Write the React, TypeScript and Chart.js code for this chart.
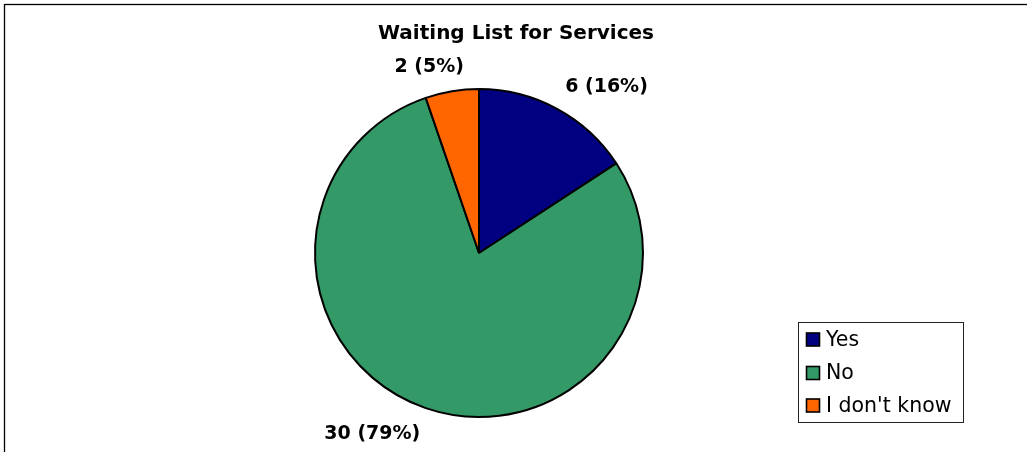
import React, { useEffect, useRef } from "react";
import { Chart, registerables } from "chart.js";

Chart.register(...registerables);

const TITLE = "Waiting List for Services";
const categories = ["Yes", "No", "I don't know"];
const counts = [6, 30, 2];
const colors = ["#000080", "#339966", "#FF6600"];

const FONT = "'DejaVu Sans', Verdana, sans-serif";
const W = 1027;
const H = 452;

const decorPlugin = {
  id: "decor",
  afterDraw(chart: any) {
    const ctx = chart.ctx as CanvasRenderingContext2D;
    ctx.save();

    // outer frame
    ctx.strokeStyle = "#000";
    ctx.lineWidth = 1.3;
    ctx.strokeRect(4.5, 4.5, W + 20, H + 20);

    // title
    ctx.fillStyle = "#000";
    ctx.font = `bold 20px ${FONT}`;
    ctx.textAlign = "center";
    ctx.textBaseline = "alphabetic";
    ctx.fillText(TITLE, 516, 39);

    // data labels
    const meta = chart.getDatasetMeta(0);
    const total = counts.reduce((a, b) => a + b, 0);
    ctx.font = `bold 19px ${FONT}`;
    ctx.textBaseline = "middle";
    meta.data.forEach((arc: any, i: number) => {
      const p = arc.getProps(["x", "y", "startAngle", "endAngle", "outerRadius"], true);
      const mid = (p.startAngle + p.endAngle) / 2;
      const c = Math.cos(mid);
      const s = Math.sin(mid);
      const text = `${counts[i]} (${Math.round((counts[i] / total) * 100)}%)`;
      const w = ctx.measureText(text).width;
      const h = 18;
      const R = p.outerRadius + 17;
      const k = Math.max(-1, Math.min(1, c * 3.5));
      const cx = p.x + R * c + (k * w) / 2;
      const cy = p.y + (R + h / 2) * s + 1.5;
      ctx.textAlign = "center";
      ctx.fillText(text, cx, cy);
    });

    // legend
    const lx = 798.5;
    const ly = 322.5;
    ctx.lineWidth = 1;
    ctx.strokeStyle = "#222";
    ctx.strokeRect(lx, ly, 165, 100);
    ctx.font = `20.5px ${FONT}`;
    ctx.textAlign = "left";
    ctx.textBaseline = "middle";
    const rows = [339.5, 373, 405.5];
    categories.forEach((label, i) => {
      const cy = rows[i];
      ctx.fillStyle = colors[i];
      ctx.fillRect(806.5, cy - 6.5, 13, 13);
      ctx.lineWidth = 1.6;
      ctx.strokeStyle = "#000";
      ctx.strokeRect(806.5, cy - 6.5, 13, 13);
      ctx.fillStyle = "#000";
      ctx.fillText(label, 826, cy + 1);
    });

    ctx.restore();
  },
};

export default function App() {
  const ref = useRef<HTMLCanvasElement | null>(null);

  useEffect(() => {
    if (!ref.current) return;
    const chart = new Chart(ref.current, {
      type: "pie",
      data: {
        labels: categories,
        datasets: [
          {
            data: counts,
            backgroundColor: colors,
            borderColor: "#000",
            borderWidth: 2,
          },
        ],
      },
      options: {
        responsive: false,
        animation: false,
        layout: {
          padding: { left: 314, right: W - 644, top: 88, bottom: H - 418 },
        },
        plugins: {
          legend: { display: false },
          title: { display: false },
          tooltip: { enabled: false },
        },
      },
      plugins: [decorPlugin],
    });
    return () => chart.destroy();
  }, []);

  return (
    <div style={{ position: "absolute", left: 0, top: 0, width: W, height: H, background: "#fff" }}>
      <canvas ref={ref} width={W} height={H} style={{ display: "block" }} />
    </div>
  );
}
